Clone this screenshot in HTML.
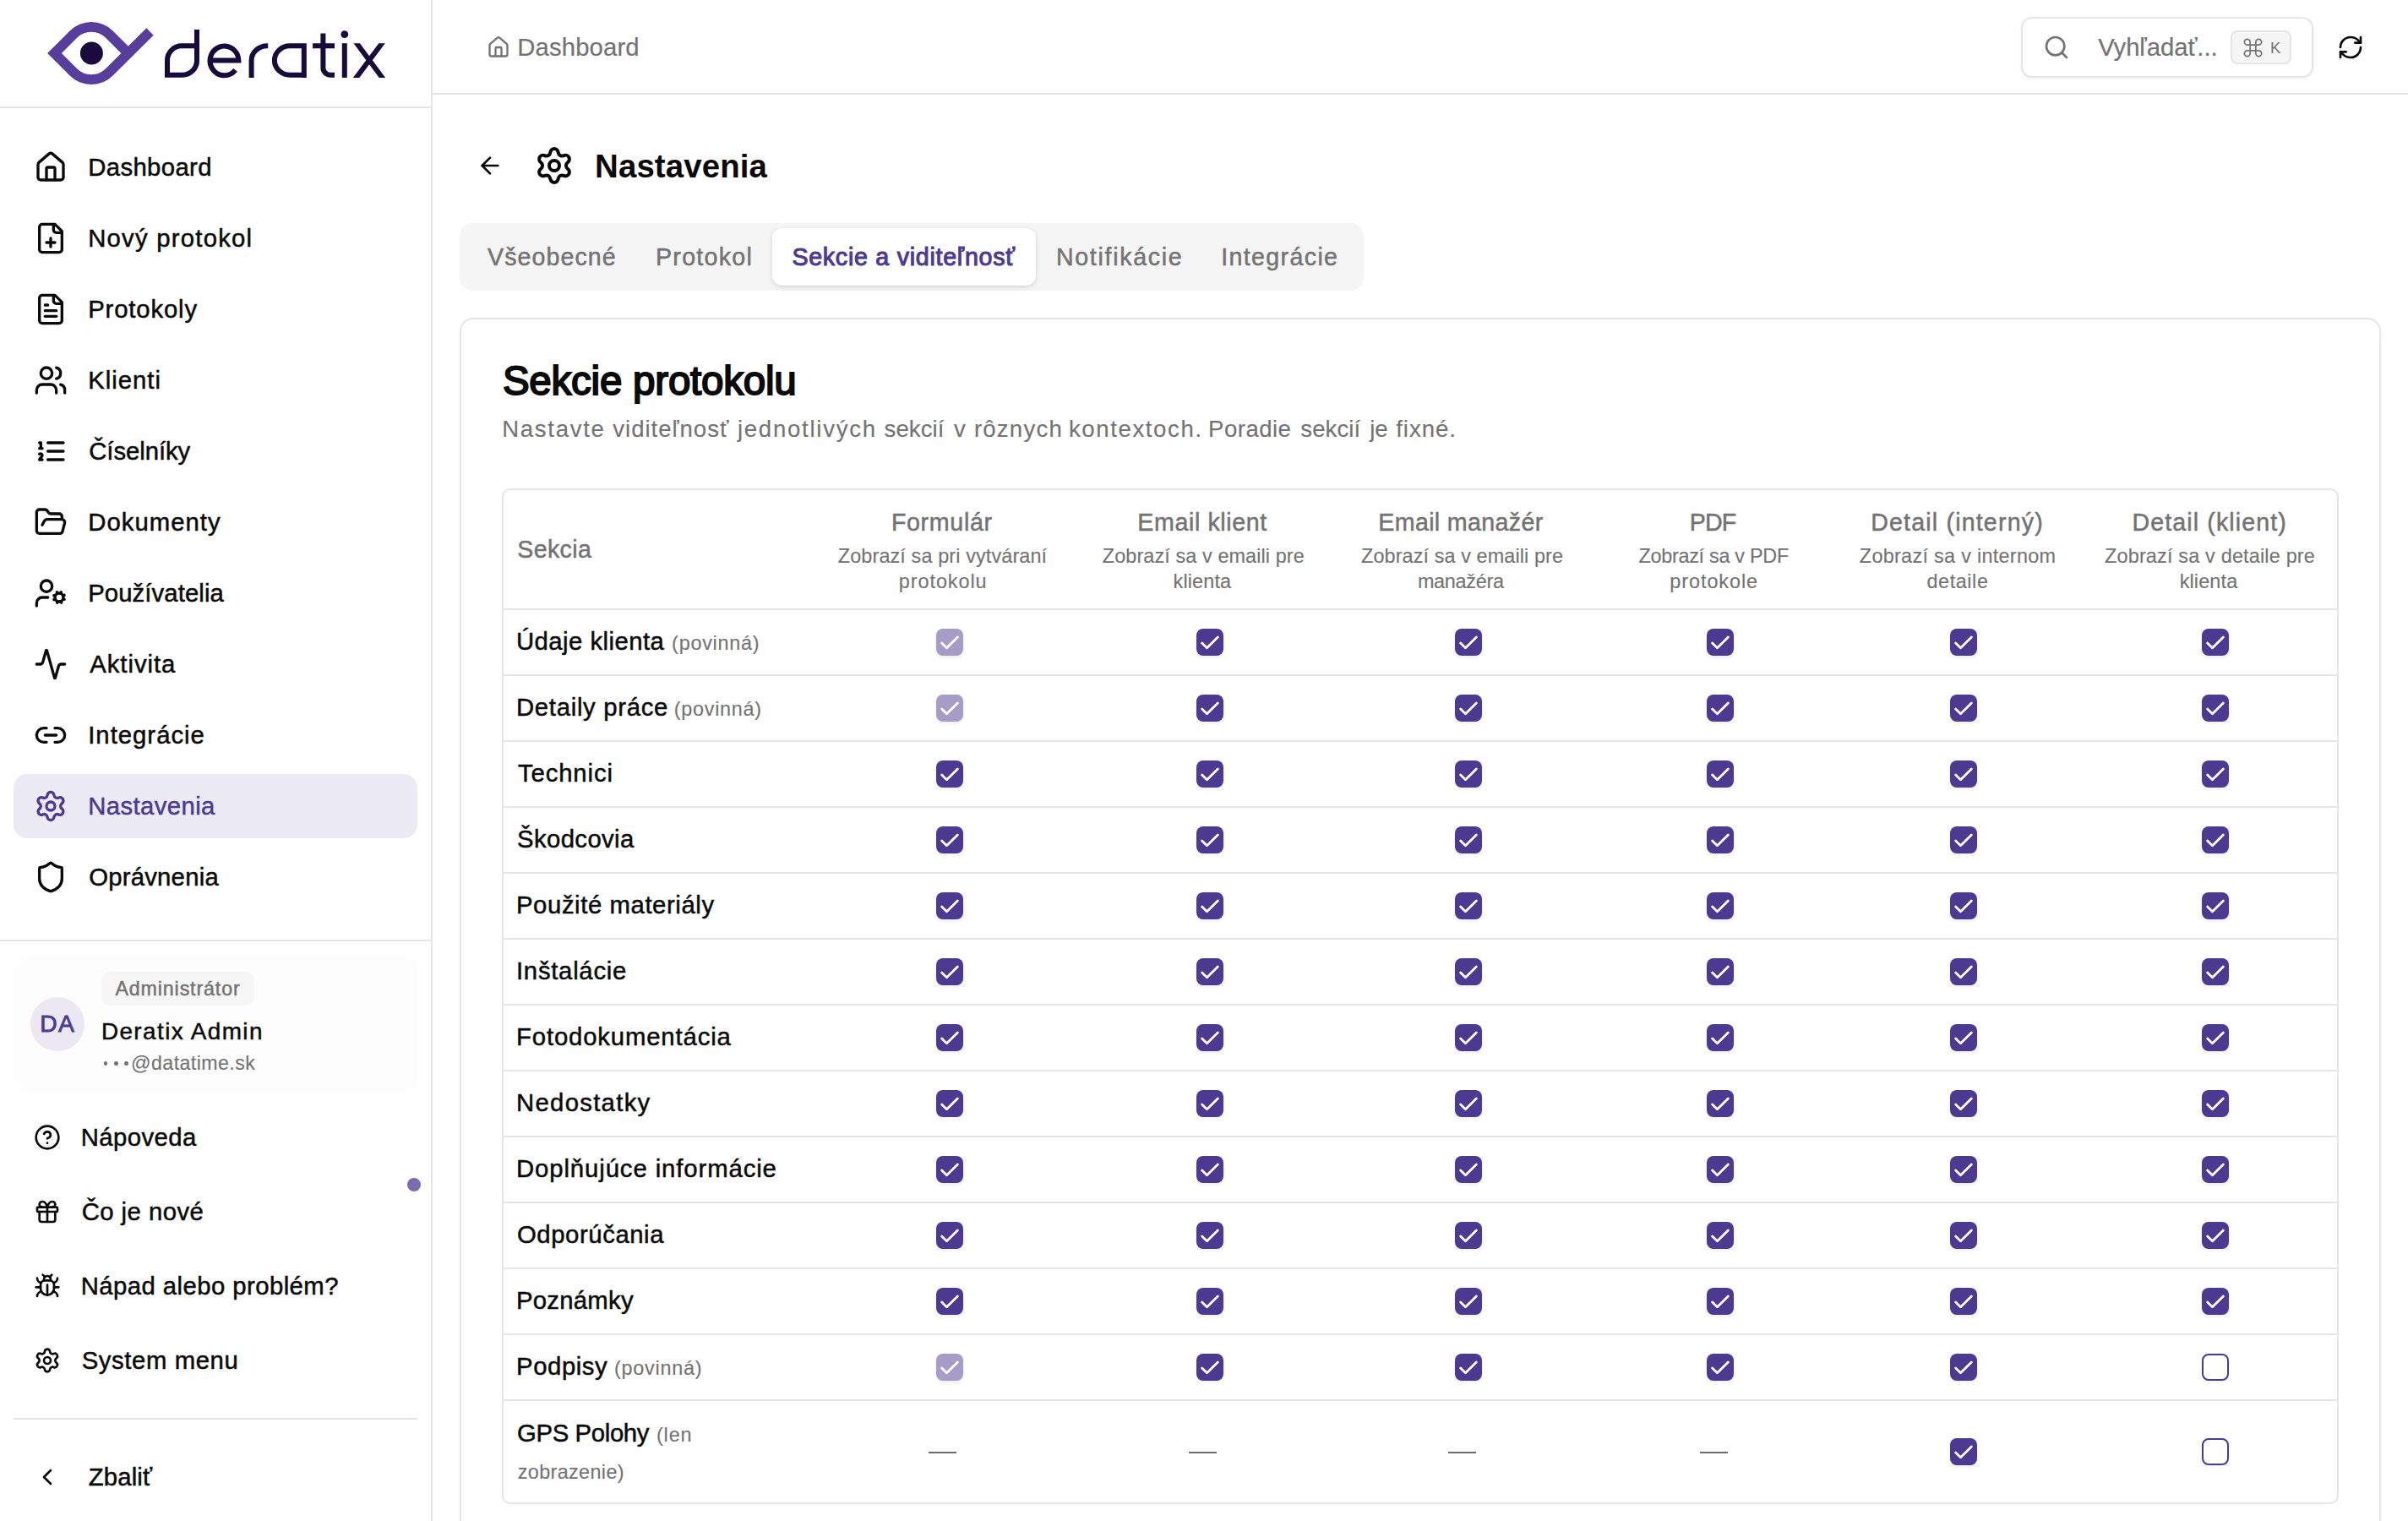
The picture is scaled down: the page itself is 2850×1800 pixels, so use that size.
<!DOCTYPE html>
<html lang="sk"><head><meta charset="utf-8"><title>Nastavenia – deratix</title>
<style>
html,body{margin:0;padding:0;background:#fff}
html,body{width:2850px;height:1800px;overflow:hidden}
body{position:relative;font-family:"Liberation Sans",sans-serif}
#root{position:absolute;left:0;top:0;width:2850px;height:1800px;overflow:hidden;background:#fff}
.a{position:absolute;display:block}
.t{position:absolute;white-space:nowrap;margin:0}
</style></head><body><div id="root">
<div class="a" style="left:510px;top:0px;width:2px;height:1800px;background:#e5e5e5"></div>
<div class="a" style="left:0px;top:126px;width:510px;height:2px;background:#e5e5e5"></div>
<svg class="a" style="left:0;top:0" width="512" height="126" viewBox="0 0 512 126" fill="none">
<defs><clipPath id="xc"><rect x="414" y="51.2" width="50" height="40.7"/></clipPath></defs>
<path d="M177.5 37.5 L129.3 85.4 A30 30 0 0 1 86.9 85.4 L64.5 63 L86.9 40.6 A30 30 0 0 1 129.3 40.6 L151.7 63" stroke="#573d9c" stroke-width="11.9" stroke-linejoin="miter" stroke-miterlimit="10"/>
<circle cx="108.4" cy="63" r="13.5" fill="#1a0a3e"/>
<g stroke="#170b3b" stroke-width="6" stroke-linecap="butt" stroke-linejoin="miter">
<path d="M233 34.9 V71.5 A17 17 0 0 1 216 88.7 H198 V71.5 A17.2 17.2 0 0 1 215.2 54.3 H233"/>
<path d="M248.6 71.4 H282.4 A16.9 17.4 0 1 0 278.6 82.9"/>
<path d="M297.6 91.9 V71.5 A19 17.2 0 0 1 316.6 54.3 H317.2"/>
<path d="M359.8 51.2 V91.9 M359.8 54.3 H343.2 A18.3 17.2 0 0 0 324.9 71.5 A18.3 17.2 0 0 0 343.2 88.7 H359.8"/>
<path d="M382.4 39.5 V80.2 A8.5 8.5 0 0 0 390.9 88.7 H396 M370.1 54.3 H396"/>
<path d="M407.8 51.2 V91.9"/>
<path clip-path="url(#xc)" d="M418.6 46.4 L456.2 97 M455.7 46.4 L417.8 97"/>
</g>
<circle cx="407.8" cy="40.7" r="4.4" fill="#170b3b"/>
</svg>
<svg class="a" style="left:40px;top:178px" width="40" height="40" viewBox="0 0 24 24" fill="none" stroke="#0a0a0a" stroke-width="2" stroke-linecap="round" stroke-linejoin="round"><path d="M15 21v-8a1 1 0 0 0-1-1h-4a1 1 0 0 0-1 1v8"/><path d="M3 10a2 2 0 0 1 .709-1.528l7-5.999a2 2 0 0 1 2.582 0l7 5.999A2 2 0 0 1 21 10v9a2 2 0 0 1-2 2H5a2 2 0 0 1-2-2z"/></svg>
<div class="t" style="left:104.20px;top:181px;font-size:29.3px;line-height:33px;color:#0a0a0a;-webkit-text-stroke:0.5px #0a0a0a;letter-spacing:0.371px;">Dashboard</div>
<svg class="a" style="left:40px;top:262px" width="40" height="40" viewBox="0 0 24 24" fill="none" stroke="#0a0a0a" stroke-width="2" stroke-linecap="round" stroke-linejoin="round"><path d="M15 2H6a2 2 0 0 0-2 2v16a2 2 0 0 0 2 2h12a2 2 0 0 0 2-2V7Z"/><path d="M14 2v4a2 2 0 0 0 2 2h4"/><path d="M9 15h6"/><path d="M12 18v-6"/></svg>
<div class="t" style="left:104.20px;top:265px;font-size:29.3px;line-height:33px;color:#0a0a0a;-webkit-text-stroke:0.5px #0a0a0a;letter-spacing:1.233px;">Nový protokol</div>
<svg class="a" style="left:40px;top:346px" width="40" height="40" viewBox="0 0 24 24" fill="none" stroke="#0a0a0a" stroke-width="2" stroke-linecap="round" stroke-linejoin="round"><path d="M15 2H6a2 2 0 0 0-2 2v16a2 2 0 0 0 2 2h12a2 2 0 0 0 2-2V7Z"/><path d="M14 2v4a2 2 0 0 0 2 2h4"/><path d="M10 9H8"/><path d="M16 13H8"/><path d="M16 17H8"/></svg>
<div class="t" style="left:104.20px;top:349px;font-size:29.3px;line-height:33px;color:#0a0a0a;-webkit-text-stroke:0.5px #0a0a0a;letter-spacing:0.841px;">Protokoly</div>
<svg class="a" style="left:40px;top:430px" width="40" height="40" viewBox="0 0 24 24" fill="none" stroke="#0a0a0a" stroke-width="2" stroke-linecap="round" stroke-linejoin="round"><path d="M16 21v-2a4 4 0 0 0-4-4H6a4 4 0 0 0-4 4v2"/><circle cx="9" cy="7" r="4"/><path d="M22 21v-2a4 4 0 0 0-3-3.87"/><path d="M16 3.13a4 4 0 0 1 0 7.75"/></svg>
<div class="t" style="left:104.20px;top:433px;font-size:29.3px;line-height:33px;color:#0a0a0a;-webkit-text-stroke:0.5px #0a0a0a;letter-spacing:0.986px;">Klienti</div>
<svg class="a" style="left:40px;top:514px" width="40" height="40" viewBox="0 0 24 24" fill="none" stroke="#0a0a0a" stroke-width="2" stroke-linecap="round" stroke-linejoin="round"><path d="M10 12h11"/><path d="M10 18h11"/><path d="M10 6h11"/><path d="M4 10h2"/><path d="M4 6h1v4"/><path d="M6 18H4c0-1 2-2 2-3s-1-1.5-2-1"/></svg>
<div class="t" style="left:105.20px;top:517px;font-size:29.3px;line-height:33px;color:#0a0a0a;-webkit-text-stroke:0.5px #0a0a0a;letter-spacing:-0.054px;">Číselníky</div>
<svg class="a" style="left:40px;top:598px" width="40" height="40" viewBox="0 0 24 24" fill="none" stroke="#0a0a0a" stroke-width="2" stroke-linecap="round" stroke-linejoin="round"><path d="m6 14 1.5-2.9A2 2 0 0 1 9.24 10H20a2 2 0 0 1 1.94 2.5l-1.54 6a2 2 0 0 1-1.95 1.5H4a2 2 0 0 1-2-2V5a2 2 0 0 1 2-2h3.9a2 2 0 0 1 1.69.9l.81 1.2a2 2 0 0 0 1.67.9H18a2 2 0 0 1 2 2v2"/></svg>
<div class="t" style="left:104.20px;top:601px;font-size:29.3px;line-height:33px;color:#0a0a0a;-webkit-text-stroke:0.5px #0a0a0a;letter-spacing:1.035px;">Dokumenty</div>
<svg class="a" style="left:40px;top:682px" width="40" height="40" viewBox="0 0 24 24" fill="none" stroke="#0a0a0a" stroke-width="2" stroke-linecap="round" stroke-linejoin="round"><circle cx="18" cy="15" r="3"/><circle cx="9" cy="7" r="4"/><path d="M10 15H6a4 4 0 0 0-4 4v2"/><path d="m21.7 16.4-.9-.3"/><path d="m15.2 13.9-.9-.3"/><path d="m16.6 18.7.3-.9"/><path d="m19.1 12.2.3-.9"/><path d="m19.6 18.7-.4-1"/><path d="m16.8 12.3-.4-1"/><path d="m14.3 16.6 1-.4"/><path d="m20.7 13.8 1-.4"/></svg>
<div class="t" style="left:104.20px;top:685px;font-size:29.3px;line-height:33px;color:#0a0a0a;-webkit-text-stroke:0.5px #0a0a0a;letter-spacing:0.099px;">Používatelia</div>
<svg class="a" style="left:40px;top:766px" width="40" height="40" viewBox="0 0 24 24" fill="none" stroke="#0a0a0a" stroke-width="2" stroke-linecap="round" stroke-linejoin="round"><path d="M22 12h-2.48a2 2 0 0 0-1.93 1.46l-2.35 8.36a.25.25 0 0 1-.48 0L9.24 2.18a.25.25 0 0 0-.48 0l-2.35 8.36A2 2 0 0 1 4.49 12H2"/></svg>
<div class="t" style="left:106.20px;top:769px;font-size:29.3px;line-height:33px;color:#0a0a0a;-webkit-text-stroke:0.5px #0a0a0a;letter-spacing:0.966px;">Aktivita</div>
<svg class="a" style="left:40px;top:850px" width="40" height="40" viewBox="0 0 24 24" fill="none" stroke="#0a0a0a" stroke-width="2" stroke-linecap="round" stroke-linejoin="round"><path d="M9 17H7A5 5 0 0 1 7 7h2"/><path d="M15 7h2a5 5 0 1 1 0 10h-2"/><line x1="8" x2="16" y1="12" y2="12"/></svg>
<div class="t" style="left:104.20px;top:853px;font-size:29.3px;line-height:33px;color:#0a0a0a;-webkit-text-stroke:0.5px #0a0a0a;letter-spacing:1.004px;">Integrácie</div>
<div class="a" style="left:16px;top:916px;width:478px;height:76px;background:#eceaf5;border-radius:16px"></div>
<svg class="a" style="left:40px;top:934px" width="40" height="40" viewBox="0 0 24 24" fill="none" stroke="#4c3a90" stroke-width="2" stroke-linecap="round" stroke-linejoin="round"><path d="M9.671 4.136a2.34 2.34 0 0 1 4.659 0 2.34 2.34 0 0 0 3.319 1.915 2.34 2.34 0 0 1 2.33 4.033 2.34 2.34 0 0 0 0 3.831 2.34 2.34 0 0 1-2.33 4.033 2.34 2.34 0 0 0-3.319 1.915 2.34 2.34 0 0 1-4.659 0 2.34 2.34 0 0 0-3.32-1.915 2.34 2.34 0 0 1-2.33-4.033 2.34 2.34 0 0 0 0-3.831A2.34 2.34 0 0 1 6.35 6.051a2.34 2.34 0 0 0 3.319-1.915"/><circle cx="12" cy="12" r="3"/></svg>
<div class="t" style="left:104.20px;top:937px;font-size:29.3px;line-height:33px;color:#4c3a90;-webkit-text-stroke:0.5px #4c3a90;letter-spacing:0.403px;">Nastavenia</div>
<svg class="a" style="left:40px;top:1018px" width="40" height="40" viewBox="0 0 24 24" fill="none" stroke="#0a0a0a" stroke-width="2" stroke-linecap="round" stroke-linejoin="round"><path d="M20 13c0 5-3.5 7.5-7.66 8.95a1 1 0 0 1-.67-.01C7.5 20.5 4 18 4 13V6a1 1 0 0 1 1-1c2 0 4.5-1.2 6.24-2.72a1.17 1.17 0 0 1 1.52 0C14.51 3.81 17 5 19 5a1 1 0 0 1 1 1z"/></svg>
<div class="t" style="left:105.20px;top:1021px;font-size:29.3px;line-height:33px;color:#0a0a0a;-webkit-text-stroke:0.5px #0a0a0a;letter-spacing:0.226px;">Oprávnenia</div>
<div class="a" style="left:0px;top:1112px;width:510px;height:2px;background:#e5e5e5"></div>
<div class="a" style="left:16px;top:1132px;width:478px;height:160px;background:#fdfdfe;border-radius:16px"></div>
<div class="a" style="left:120px;top:1150px;width:181px;height:40px;background:#f6f6f6;border-radius:10px"></div>
<div class="t" style="left:136.50px;top:1157px;font-size:23.2px;line-height:26px;color:#737373;-webkit-text-stroke:0.5px #737373;letter-spacing:0.878px;">Administrátor</div>
<div class="a" style="left:36px;top:1180px;width:64px;height:64px;background:#ebe8f4;border-radius:50%"></div>
<div class="t" style="left:47.20px;top:1195px;font-size:28.3px;line-height:32px;color:#4c3a90;-webkit-text-stroke:0.8px #4c3a90;letter-spacing:1.365px;">DA</div>
<div class="t" style="left:119.90px;top:1205px;font-size:27.9px;line-height:31px;color:#0a0a0a;-webkit-text-stroke:0.5px #0a0a0a;letter-spacing:1.414px;">Deratix Admin</div>
<div class="a" style="left:122.7px;top:1256.4px;width:4.6px;height:4.6px;background:#737373;border-radius:50%"></div>
<div class="a" style="left:135.29999999999998px;top:1256.4px;width:4.6px;height:4.6px;background:#737373;border-radius:50%"></div>
<div class="a" style="left:147.29999999999998px;top:1256.4px;width:4.6px;height:4.6px;background:#737373;border-radius:50%"></div>
<div class="t" style="left:155.10px;top:1245px;font-size:23.2px;line-height:26px;color:#737373;-webkit-text-stroke:0.15px #737373;letter-spacing:0.417px;">@datatime.sk</div>
<svg class="a" style="left:40px;top:1330px" width="32" height="32" viewBox="0 0 24 24" fill="none" stroke="#0a0a0a" stroke-width="2" stroke-linecap="round" stroke-linejoin="round"><circle cx="12" cy="12" r="10"/><path d="M9.09 9a3 3 0 0 1 5.83 1c0 2-3 3-3 3"/><path d="M12 17h.01"/></svg>
<div class="t" style="left:95.70px;top:1329px;font-size:29.3px;line-height:33px;color:#0a0a0a;-webkit-text-stroke:0.5px #0a0a0a;letter-spacing:0.432px;">Nápoveda</div>
<svg class="a" style="left:40px;top:1418px" width="32" height="32" viewBox="0 0 24 24" fill="none" stroke="#0a0a0a" stroke-width="2" stroke-linecap="round" stroke-linejoin="round"><rect x="3" y="8" width="18" height="4" rx="1"/><path d="M12 8v13"/><path d="M19 12v7a2 2 0 0 1-2 2H7a2 2 0 0 1-2-2v-7"/><path d="M7.5 8a2.5 2.5 0 0 1 0-5A4.8 8 0 0 1 12 8a4.8 8 0 0 1 4.5-5 2.5 2.5 0 0 1 0 5"/></svg>
<div class="t" style="left:96.70px;top:1417px;font-size:29.3px;line-height:33px;color:#0a0a0a;-webkit-text-stroke:0.5px #0a0a0a;letter-spacing:0.448px;">Čo je nové</div>
<svg class="a" style="left:40px;top:1506px" width="32" height="32" viewBox="0 0 24 24" fill="none" stroke="#0a0a0a" stroke-width="2" stroke-linecap="round" stroke-linejoin="round"><path d="m8 2 1.88 1.88"/><path d="M14.12 3.88 16 2"/><path d="M9 7.13v-1a3.003 3.003 0 1 1 6 0v1"/><path d="M12 20c-3.3 0-6-2.7-6-6v-3a4 4 0 0 1 4-4h4a4 4 0 0 1 4 4v3c0 3.3-2.7 6-6 6"/><path d="M12 20v-9"/><path d="M6.53 9C4.6 8.8 3 7.1 3 5"/><path d="M6 13H2"/><path d="M3 21c0-2.1 1.7-3.9 3.8-4"/><path d="M20.97 5c0 2.1-1.6 3.8-3.5 4"/><path d="M22 13h-4"/><path d="M17.2 17c2.1.1 3.8 1.9 3.8 4"/></svg>
<div class="t" style="left:95.70px;top:1505px;font-size:29.3px;line-height:33px;color:#0a0a0a;-webkit-text-stroke:0.5px #0a0a0a;letter-spacing:0.440px;">Nápad alebo problém?</div>
<svg class="a" style="left:40px;top:1594px" width="32" height="32" viewBox="0 0 24 24" fill="none" stroke="#0a0a0a" stroke-width="2" stroke-linecap="round" stroke-linejoin="round"><path d="M9.671 4.136a2.34 2.34 0 0 1 4.659 0 2.34 2.34 0 0 0 3.319 1.915 2.34 2.34 0 0 1 2.33 4.033 2.34 2.34 0 0 0 0 3.831 2.34 2.34 0 0 1-2.33 4.033 2.34 2.34 0 0 0-3.319 1.915 2.34 2.34 0 0 1-4.659 0 2.34 2.34 0 0 0-3.32-1.915 2.34 2.34 0 0 1-2.33-4.033 2.34 2.34 0 0 0 0-3.831A2.34 2.34 0 0 1 6.35 6.051a2.34 2.34 0 0 0 3.319-1.915"/><circle cx="12" cy="12" r="3"/></svg>
<div class="t" style="left:96.70px;top:1593px;font-size:29.3px;line-height:33px;color:#0a0a0a;-webkit-text-stroke:0.5px #0a0a0a;letter-spacing:0.599px;">System menu</div>
<div class="a" style="left:482px;top:1394px;width:16px;height:16px;background:#7a6cb0;border-radius:50%"></div>
<div class="a" style="left:16px;top:1678px;width:478px;height:2px;background:#e5e5e5"></div>
<svg class="a" style="left:40px;top:1731.5px" width="32" height="32" viewBox="0 0 24 24" fill="none" stroke="#0a0a0a" stroke-width="2" stroke-linecap="round" stroke-linejoin="round"><path d="m15 18-6-6 6-6"/></svg>
<div class="t" style="left:104.80px;top:1731px;font-size:29.3px;line-height:33px;color:#0a0a0a;-webkit-text-stroke:0.5px #0a0a0a;letter-spacing:0.120px;">Zbaliť</div>
<div class="a" style="left:512px;top:110px;width:2338px;height:2px;background:#e5e5e5"></div>
<svg class="a" style="left:576px;top:42px" width="28" height="28" viewBox="0 0 24 24" fill="none" stroke="#737373" stroke-width="2" stroke-linecap="round" stroke-linejoin="round"><path d="M15 21v-8a1 1 0 0 0-1-1h-4a1 1 0 0 0-1 1v8"/><path d="M3 10a2 2 0 0 1 .709-1.528l7-5.999a2 2 0 0 1 2.582 0l7 5.999A2 2 0 0 1 21 10v9a2 2 0 0 1-2 2H5a2 2 0 0 1-2-2z"/></svg>
<div class="t" style="left:612.30px;top:39px;font-size:29.3px;line-height:33px;color:#737373;-webkit-text-stroke:0.2px #737373;letter-spacing:0.121px;">Dashboard</div>
<div class="a" style="left:2392px;top:20px;width:346px;height:72px;border:2px solid #e5e5e5;border-radius:13px;box-sizing:border-box;box-shadow:0 2px 4px rgba(0,0,0,.05);background:#fff"></div>
<svg class="a" style="left:2418px;top:40px" width="32" height="32" viewBox="0 0 24 24" fill="none" stroke="#737373" stroke-width="2" stroke-linecap="round" stroke-linejoin="round"><circle cx="11" cy="11" r="8"/><path d="m21 21-4.34-4.34"/></svg>
<div class="t" style="left:2483.20px;top:39px;font-size:29.3px;line-height:33px;color:#737373;-webkit-text-stroke:0.2px #737373;letter-spacing:-0.078px;">Vyhľadať...</div>
<div class="a" style="left:2640px;top:36px;width:72px;height:40px;border:2px solid #e5e5e5;border-radius:8px;box-sizing:border-box;background:#f5f5f5"></div>
<svg class="a" style="left:2652.5px;top:42.5px" width="27" height="27" viewBox="0 0 24 24" fill="none" stroke="#737373" stroke-width="1.5" stroke-linecap="round" stroke-linejoin="round"><path d="M15 6v12a3 3 0 1 0 3-3H6a3 3 0 1 0 3 3V6a3 3 0 1 0-3 3h12a3 3 0 1 0-3-3"/></svg>
<div class="t" style="left:2687.00px;top:46px;font-size:18.5px;line-height:21px;color:#737373;-webkit-text-stroke:0px #737373;">K</div>
<svg class="a" style="left:2766px;top:40px" width="32" height="32" viewBox="0 0 24 24" fill="none" stroke="#0a0a0a" stroke-width="2" stroke-linecap="round" stroke-linejoin="round"><path d="M3 12a9 9 0 0 1 9-9 9.75 9.75 0 0 1 6.74 2.74L21 8"/><path d="M21 3v5h-5"/><path d="M21 12a9 9 0 0 1-9 9 9.75 9.75 0 0 1-6.74-2.74L3 16"/><path d="M8 16H3v5"/></svg>
<svg class="a" style="left:564px;top:180px" width="32" height="32" viewBox="0 0 24 24" fill="none" stroke="#0a0a0a" stroke-width="2" stroke-linecap="round" stroke-linejoin="round"><path d="m12 19-7-7 7-7"/><path d="M19 12H5"/></svg>
<svg class="a" style="left:632px;top:172px" width="48" height="48" viewBox="0 0 24 24" fill="none" stroke="#0a0a0a" stroke-width="2" stroke-linecap="round" stroke-linejoin="round"><path d="M9.671 4.136a2.34 2.34 0 0 1 4.659 0 2.34 2.34 0 0 0 3.319 1.915 2.34 2.34 0 0 1 2.33 4.033 2.34 2.34 0 0 0 0 3.831 2.34 2.34 0 0 1-2.33 4.033 2.34 2.34 0 0 0-3.319 1.915 2.34 2.34 0 0 1-4.659 0 2.34 2.34 0 0 0-3.32-1.915 2.34 2.34 0 0 1-2.33-4.033 2.34 2.34 0 0 0 0-3.831A2.34 2.34 0 0 1 6.35 6.051a2.34 2.34 0 0 0 3.319-1.915"/><circle cx="12" cy="12" r="3"/></svg>
<div class="t" style="left:704.10px;top:175px;font-size:38.4px;line-height:43px;color:#0a0a0a;font-weight:700;letter-spacing:0.113px;">Nastavenia</div>
<div class="a" style="left:544px;top:264px;width:1070px;height:80px;background:#f5f5f5;border-radius:16px"></div>
<div class="a" style="left:914px;top:270px;width:312px;height:68px;background:#fff;border-radius:12px;box-shadow:0 2px 6px rgba(0,0,0,.10),0 1px 3px rgba(0,0,0,.06)"></div>
<div class="t" style="left:577.00px;top:288px;font-size:28.6px;line-height:32px;color:#737373;-webkit-text-stroke:0.5px #737373;letter-spacing:1.078px;">Všeobecné</div>
<div class="t" style="left:776.00px;top:288px;font-size:28.6px;line-height:32px;color:#737373;-webkit-text-stroke:0.5px #737373;letter-spacing:1.280px;">Protokol</div>
<div class="t" style="left:937.40px;top:288px;font-size:28.6px;line-height:32px;color:#4c3a90;-webkit-text-stroke:1.05px #4c3a90;letter-spacing:0.737px;">Sekcie a viditeľnosť</div>
<div class="t" style="left:1249.90px;top:288px;font-size:28.6px;line-height:32px;color:#737373;-webkit-text-stroke:0.5px #737373;letter-spacing:1.691px;">Notifikácie</div>
<div class="t" style="left:1445.20px;top:288px;font-size:28.6px;line-height:32px;color:#737373;-webkit-text-stroke:0.5px #737373;letter-spacing:1.359px;">Integrácie</div>
<div class="a" style="left:544px;top:376px;width:2274px;height:1460px;border:2px solid #e5e5e5;border-radius:16px;box-sizing:border-box;box-shadow:0 2px 4px rgba(0,0,0,.04);background:#fff"></div>
<div class="t" style="left:594.90px;top:424px;font-size:47.5px;line-height:53px;color:#0a0a0a;-webkit-text-stroke:2.0px #0a0a0a;letter-spacing:-0.224px;">Sekcie protokolu</div>
<div class="t" style="left:594.20px;top:492px;font-size:27.6px;line-height:31px;color:#737373;-webkit-text-stroke:0.15px #737373;letter-spacing:1.693px;">Nastavte</div>
<div class="t" style="left:725.30px;top:492px;font-size:27.6px;line-height:31px;color:#737373;-webkit-text-stroke:0.15px #737373;letter-spacing:0.965px;">viditeľnosť</div>
<div class="t" style="left:872.90px;top:492px;font-size:27.6px;line-height:31px;color:#737373;-webkit-text-stroke:0.15px #737373;letter-spacing:1.733px;">jednotlivých</div>
<div class="t" style="left:1046.50px;top:492px;font-size:27.6px;line-height:31px;color:#737373;-webkit-text-stroke:0.15px #737373;letter-spacing:0.087px;">sekcií</div>
<div class="t" style="left:1129.00px;top:492px;font-size:27.6px;line-height:31px;color:#737373;-webkit-text-stroke:0.15px #737373;">v</div>
<div class="t" style="left:1152.90px;top:492px;font-size:27.6px;line-height:31px;color:#737373;-webkit-text-stroke:0.15px #737373;letter-spacing:1.205px;">rôznych</div>
<div class="t" style="left:1264.90px;top:492px;font-size:27.6px;line-height:31px;color:#737373;-webkit-text-stroke:0.15px #737373;letter-spacing:1.604px;">kontextoch.</div>
<div class="t" style="left:1430.10px;top:492px;font-size:27.6px;line-height:31px;color:#737373;-webkit-text-stroke:0.15px #737373;letter-spacing:0.456px;">Poradie</div>
<div class="t" style="left:1539.30px;top:492px;font-size:27.6px;line-height:31px;color:#737373;-webkit-text-stroke:0.15px #737373;letter-spacing:0.067px;">sekcií</div>
<div class="t" style="left:1621.20px;top:492px;font-size:27.6px;line-height:31px;color:#737373;-webkit-text-stroke:0.15px #737373;letter-spacing:-0.130px;">je</div>
<div class="t" style="left:1652.20px;top:492px;font-size:27.6px;line-height:31px;color:#737373;-webkit-text-stroke:0.15px #737373;letter-spacing:0.963px;">fixné.</div>
<div class="a" style="left:594px;top:578px;width:2174px;height:1202px;border:2px solid #e5e5e5;border-radius:10px;box-sizing:border-box;background:#fff"></div>
<div class="a" style="left:596px;top:720px;width:2170px;height:2px;background:#e5e5e5"></div>
<div class="a" style="left:596px;top:798px;width:2170px;height:2px;background:#e5e5e5"></div>
<div class="a" style="left:596px;top:876px;width:2170px;height:2px;background:#e5e5e5"></div>
<div class="a" style="left:596px;top:954px;width:2170px;height:2px;background:#e5e5e5"></div>
<div class="a" style="left:596px;top:1032px;width:2170px;height:2px;background:#e5e5e5"></div>
<div class="a" style="left:596px;top:1110px;width:2170px;height:2px;background:#e5e5e5"></div>
<div class="a" style="left:596px;top:1188px;width:2170px;height:2px;background:#e5e5e5"></div>
<div class="a" style="left:596px;top:1266px;width:2170px;height:2px;background:#e5e5e5"></div>
<div class="a" style="left:596px;top:1344px;width:2170px;height:2px;background:#e5e5e5"></div>
<div class="a" style="left:596px;top:1422px;width:2170px;height:2px;background:#e5e5e5"></div>
<div class="a" style="left:596px;top:1500px;width:2170px;height:2px;background:#e5e5e5"></div>
<div class="a" style="left:596px;top:1578px;width:2170px;height:2px;background:#e5e5e5"></div>
<div class="a" style="left:596px;top:1656px;width:2170px;height:2px;background:#e5e5e5"></div>
<div class="t" style="left:612.20px;top:634px;font-size:28.6px;line-height:32px;color:#737373;-webkit-text-stroke:0.5px #737373;letter-spacing:0.376px;">Sekcia</div>
<div class="t" style="left:1054.90px;top:602px;font-size:28.6px;line-height:32px;color:#737373;-webkit-text-stroke:0.5px #737373;letter-spacing:0.676px;">Formulár</div>
<div class="t" style="left:991.80px;top:645px;font-size:23.4px;line-height:26px;color:#737373;-webkit-text-stroke:0.15px #737373;letter-spacing:0.126px;">Zobrazí sa pri vytváraní</div>
<div class="t" style="left:1063.80px;top:675px;font-size:23.4px;line-height:26px;color:#737373;-webkit-text-stroke:0.15px #737373;letter-spacing:0.948px;">protokolu</div>
<div class="t" style="left:1346.30px;top:602px;font-size:28.6px;line-height:32px;color:#737373;-webkit-text-stroke:0.5px #737373;letter-spacing:0.614px;">Email klient</div>
<div class="t" style="left:1304.85px;top:645px;font-size:23.4px;line-height:26px;color:#737373;-webkit-text-stroke:0.15px #737373;letter-spacing:0.105px;">Zobrazí sa v emaili pre</div>
<div class="t" style="left:1388.55px;top:675px;font-size:23.4px;line-height:26px;color:#737373;-webkit-text-stroke:0.15px #737373;letter-spacing:0.149px;">klienta</div>
<div class="t" style="left:1631.35px;top:602px;font-size:28.6px;line-height:32px;color:#737373;-webkit-text-stroke:0.5px #737373;letter-spacing:0.344px;">Email manažér</div>
<div class="t" style="left:1611.05px;top:645px;font-size:23.4px;line-height:26px;color:#737373;-webkit-text-stroke:0.15px #737373;letter-spacing:0.105px;">Zobrazí sa v emaili pre</div>
<div class="t" style="left:1677.90px;top:675px;font-size:23.4px;line-height:26px;color:#737373;-webkit-text-stroke:0.15px #737373;letter-spacing:-0.258px;">manažéra</div>
<div class="t" style="left:1999.75px;top:602px;font-size:28.6px;line-height:32px;color:#737373;-webkit-text-stroke:0.5px #737373;letter-spacing:-0.911px;">PDF</div>
<div class="t" style="left:1939.45px;top:645px;font-size:23.4px;line-height:26px;color:#737373;-webkit-text-stroke:0.15px #737373;letter-spacing:-0.279px;">Zobrazí sa v PDF</div>
<div class="t" style="left:1976.30px;top:675px;font-size:23.4px;line-height:26px;color:#737373;-webkit-text-stroke:0.15px #737373;letter-spacing:0.948px;">protokole</div>
<div class="t" style="left:2214.20px;top:602px;font-size:28.6px;line-height:32px;color:#737373;-webkit-text-stroke:0.5px #737373;letter-spacing:1.174px;">Detail (interný)</div>
<div class="t" style="left:2200.80px;top:645px;font-size:23.4px;line-height:26px;color:#737373;-webkit-text-stroke:0.15px #737373;letter-spacing:0.304px;">Zobrazí sa v internom</div>
<div class="t" style="left:2280.50px;top:675px;font-size:23.4px;line-height:26px;color:#737373;-webkit-text-stroke:0.15px #737373;letter-spacing:0.580px;">detaile</div>
<div class="t" style="left:2523.55px;top:602px;font-size:28.6px;line-height:32px;color:#737373;-webkit-text-stroke:0.5px #737373;letter-spacing:1.098px;">Detail (klient)</div>
<div class="t" style="left:2491.00px;top:645px;font-size:23.4px;line-height:26px;color:#737373;-webkit-text-stroke:0.15px #737373;letter-spacing:0.191px;">Zobrazí sa v detaile pre</div>
<div class="t" style="left:2579.65px;top:675px;font-size:23.4px;line-height:26px;color:#737373;-webkit-text-stroke:0.15px #737373;letter-spacing:0.149px;">klienta</div>
<div class="t" style="left:611.00px;top:742px;font-size:29.3px;line-height:33px;color:#0a0a0a;-webkit-text-stroke:0.5px #0a0a0a;letter-spacing:0.460px;">Údaje klienta</div>
<div class="t" style="left:795.10px;top:748px;font-size:23.4px;line-height:26px;color:#737373;-webkit-text-stroke:0.15px #737373;letter-spacing:0.747px;">(povinná)</div>
<div class="a" style="left:1108px;top:744px;width:32px;height:32px;background:#a59dc8;border-radius:8px;box-shadow:0 2px 4px rgba(0,0,0,.08)"></div><svg class="a" style="left:1110px;top:746.5px" width="28" height="28" viewBox="0 0 24 24" fill="none" stroke="#fff" stroke-width="2.4" stroke-linecap="round" stroke-linejoin="round"><path d="M20 6 9 17l-5-5"/></svg>
<div class="a" style="left:1416px;top:744px;width:32px;height:32px;background:#4c3a90;border-radius:8px;box-shadow:0 2px 4px rgba(0,0,0,.08)"></div><svg class="a" style="left:1418px;top:746.5px" width="28" height="28" viewBox="0 0 24 24" fill="none" stroke="#fff" stroke-width="2.4" stroke-linecap="round" stroke-linejoin="round"><path d="M20 6 9 17l-5-5"/></svg>
<div class="a" style="left:1722px;top:744px;width:32px;height:32px;background:#4c3a90;border-radius:8px;box-shadow:0 2px 4px rgba(0,0,0,.08)"></div><svg class="a" style="left:1724px;top:746.5px" width="28" height="28" viewBox="0 0 24 24" fill="none" stroke="#fff" stroke-width="2.4" stroke-linecap="round" stroke-linejoin="round"><path d="M20 6 9 17l-5-5"/></svg>
<div class="a" style="left:2020px;top:744px;width:32px;height:32px;background:#4c3a90;border-radius:8px;box-shadow:0 2px 4px rgba(0,0,0,.08)"></div><svg class="a" style="left:2022px;top:746.5px" width="28" height="28" viewBox="0 0 24 24" fill="none" stroke="#fff" stroke-width="2.4" stroke-linecap="round" stroke-linejoin="round"><path d="M20 6 9 17l-5-5"/></svg>
<div class="a" style="left:2308px;top:744px;width:32px;height:32px;background:#4c3a90;border-radius:8px;box-shadow:0 2px 4px rgba(0,0,0,.08)"></div><svg class="a" style="left:2310px;top:746.5px" width="28" height="28" viewBox="0 0 24 24" fill="none" stroke="#fff" stroke-width="2.4" stroke-linecap="round" stroke-linejoin="round"><path d="M20 6 9 17l-5-5"/></svg>
<div class="a" style="left:2606px;top:744px;width:32px;height:32px;background:#4c3a90;border-radius:8px;box-shadow:0 2px 4px rgba(0,0,0,.08)"></div><svg class="a" style="left:2608px;top:746.5px" width="28" height="28" viewBox="0 0 24 24" fill="none" stroke="#fff" stroke-width="2.4" stroke-linecap="round" stroke-linejoin="round"><path d="M20 6 9 17l-5-5"/></svg>
<div class="t" style="left:611.00px;top:820px;font-size:29.3px;line-height:33px;color:#0a0a0a;-webkit-text-stroke:0.5px #0a0a0a;letter-spacing:0.702px;">Detaily práce</div>
<div class="t" style="left:797.80px;top:826px;font-size:23.4px;line-height:26px;color:#737373;-webkit-text-stroke:0.15px #737373;letter-spacing:0.722px;">(povinná)</div>
<div class="a" style="left:1108px;top:822px;width:32px;height:32px;background:#a59dc8;border-radius:8px;box-shadow:0 2px 4px rgba(0,0,0,.08)"></div><svg class="a" style="left:1110px;top:824.5px" width="28" height="28" viewBox="0 0 24 24" fill="none" stroke="#fff" stroke-width="2.4" stroke-linecap="round" stroke-linejoin="round"><path d="M20 6 9 17l-5-5"/></svg>
<div class="a" style="left:1416px;top:822px;width:32px;height:32px;background:#4c3a90;border-radius:8px;box-shadow:0 2px 4px rgba(0,0,0,.08)"></div><svg class="a" style="left:1418px;top:824.5px" width="28" height="28" viewBox="0 0 24 24" fill="none" stroke="#fff" stroke-width="2.4" stroke-linecap="round" stroke-linejoin="round"><path d="M20 6 9 17l-5-5"/></svg>
<div class="a" style="left:1722px;top:822px;width:32px;height:32px;background:#4c3a90;border-radius:8px;box-shadow:0 2px 4px rgba(0,0,0,.08)"></div><svg class="a" style="left:1724px;top:824.5px" width="28" height="28" viewBox="0 0 24 24" fill="none" stroke="#fff" stroke-width="2.4" stroke-linecap="round" stroke-linejoin="round"><path d="M20 6 9 17l-5-5"/></svg>
<div class="a" style="left:2020px;top:822px;width:32px;height:32px;background:#4c3a90;border-radius:8px;box-shadow:0 2px 4px rgba(0,0,0,.08)"></div><svg class="a" style="left:2022px;top:824.5px" width="28" height="28" viewBox="0 0 24 24" fill="none" stroke="#fff" stroke-width="2.4" stroke-linecap="round" stroke-linejoin="round"><path d="M20 6 9 17l-5-5"/></svg>
<div class="a" style="left:2308px;top:822px;width:32px;height:32px;background:#4c3a90;border-radius:8px;box-shadow:0 2px 4px rgba(0,0,0,.08)"></div><svg class="a" style="left:2310px;top:824.5px" width="28" height="28" viewBox="0 0 24 24" fill="none" stroke="#fff" stroke-width="2.4" stroke-linecap="round" stroke-linejoin="round"><path d="M20 6 9 17l-5-5"/></svg>
<div class="a" style="left:2606px;top:822px;width:32px;height:32px;background:#4c3a90;border-radius:8px;box-shadow:0 2px 4px rgba(0,0,0,.08)"></div><svg class="a" style="left:2608px;top:824.5px" width="28" height="28" viewBox="0 0 24 24" fill="none" stroke="#fff" stroke-width="2.4" stroke-linecap="round" stroke-linejoin="round"><path d="M20 6 9 17l-5-5"/></svg>
<div class="t" style="left:613.00px;top:898px;font-size:29.3px;line-height:33px;color:#0a0a0a;-webkit-text-stroke:0.5px #0a0a0a;letter-spacing:0.867px;">Technici</div>
<div class="a" style="left:1108px;top:900px;width:32px;height:32px;background:#4c3a90;border-radius:8px;box-shadow:0 2px 4px rgba(0,0,0,.08)"></div><svg class="a" style="left:1110px;top:902.5px" width="28" height="28" viewBox="0 0 24 24" fill="none" stroke="#fff" stroke-width="2.4" stroke-linecap="round" stroke-linejoin="round"><path d="M20 6 9 17l-5-5"/></svg>
<div class="a" style="left:1416px;top:900px;width:32px;height:32px;background:#4c3a90;border-radius:8px;box-shadow:0 2px 4px rgba(0,0,0,.08)"></div><svg class="a" style="left:1418px;top:902.5px" width="28" height="28" viewBox="0 0 24 24" fill="none" stroke="#fff" stroke-width="2.4" stroke-linecap="round" stroke-linejoin="round"><path d="M20 6 9 17l-5-5"/></svg>
<div class="a" style="left:1722px;top:900px;width:32px;height:32px;background:#4c3a90;border-radius:8px;box-shadow:0 2px 4px rgba(0,0,0,.08)"></div><svg class="a" style="left:1724px;top:902.5px" width="28" height="28" viewBox="0 0 24 24" fill="none" stroke="#fff" stroke-width="2.4" stroke-linecap="round" stroke-linejoin="round"><path d="M20 6 9 17l-5-5"/></svg>
<div class="a" style="left:2020px;top:900px;width:32px;height:32px;background:#4c3a90;border-radius:8px;box-shadow:0 2px 4px rgba(0,0,0,.08)"></div><svg class="a" style="left:2022px;top:902.5px" width="28" height="28" viewBox="0 0 24 24" fill="none" stroke="#fff" stroke-width="2.4" stroke-linecap="round" stroke-linejoin="round"><path d="M20 6 9 17l-5-5"/></svg>
<div class="a" style="left:2308px;top:900px;width:32px;height:32px;background:#4c3a90;border-radius:8px;box-shadow:0 2px 4px rgba(0,0,0,.08)"></div><svg class="a" style="left:2310px;top:902.5px" width="28" height="28" viewBox="0 0 24 24" fill="none" stroke="#fff" stroke-width="2.4" stroke-linecap="round" stroke-linejoin="round"><path d="M20 6 9 17l-5-5"/></svg>
<div class="a" style="left:2606px;top:900px;width:32px;height:32px;background:#4c3a90;border-radius:8px;box-shadow:0 2px 4px rgba(0,0,0,.08)"></div><svg class="a" style="left:2608px;top:902.5px" width="28" height="28" viewBox="0 0 24 24" fill="none" stroke="#fff" stroke-width="2.4" stroke-linecap="round" stroke-linejoin="round"><path d="M20 6 9 17l-5-5"/></svg>
<div class="t" style="left:612.00px;top:976px;font-size:29.3px;line-height:33px;color:#0a0a0a;-webkit-text-stroke:0.5px #0a0a0a;letter-spacing:0.391px;">Škodcovia</div>
<div class="a" style="left:1108px;top:978px;width:32px;height:32px;background:#4c3a90;border-radius:8px;box-shadow:0 2px 4px rgba(0,0,0,.08)"></div><svg class="a" style="left:1110px;top:980.5px" width="28" height="28" viewBox="0 0 24 24" fill="none" stroke="#fff" stroke-width="2.4" stroke-linecap="round" stroke-linejoin="round"><path d="M20 6 9 17l-5-5"/></svg>
<div class="a" style="left:1416px;top:978px;width:32px;height:32px;background:#4c3a90;border-radius:8px;box-shadow:0 2px 4px rgba(0,0,0,.08)"></div><svg class="a" style="left:1418px;top:980.5px" width="28" height="28" viewBox="0 0 24 24" fill="none" stroke="#fff" stroke-width="2.4" stroke-linecap="round" stroke-linejoin="round"><path d="M20 6 9 17l-5-5"/></svg>
<div class="a" style="left:1722px;top:978px;width:32px;height:32px;background:#4c3a90;border-radius:8px;box-shadow:0 2px 4px rgba(0,0,0,.08)"></div><svg class="a" style="left:1724px;top:980.5px" width="28" height="28" viewBox="0 0 24 24" fill="none" stroke="#fff" stroke-width="2.4" stroke-linecap="round" stroke-linejoin="round"><path d="M20 6 9 17l-5-5"/></svg>
<div class="a" style="left:2020px;top:978px;width:32px;height:32px;background:#4c3a90;border-radius:8px;box-shadow:0 2px 4px rgba(0,0,0,.08)"></div><svg class="a" style="left:2022px;top:980.5px" width="28" height="28" viewBox="0 0 24 24" fill="none" stroke="#fff" stroke-width="2.4" stroke-linecap="round" stroke-linejoin="round"><path d="M20 6 9 17l-5-5"/></svg>
<div class="a" style="left:2308px;top:978px;width:32px;height:32px;background:#4c3a90;border-radius:8px;box-shadow:0 2px 4px rgba(0,0,0,.08)"></div><svg class="a" style="left:2310px;top:980.5px" width="28" height="28" viewBox="0 0 24 24" fill="none" stroke="#fff" stroke-width="2.4" stroke-linecap="round" stroke-linejoin="round"><path d="M20 6 9 17l-5-5"/></svg>
<div class="a" style="left:2606px;top:978px;width:32px;height:32px;background:#4c3a90;border-radius:8px;box-shadow:0 2px 4px rgba(0,0,0,.08)"></div><svg class="a" style="left:2608px;top:980.5px" width="28" height="28" viewBox="0 0 24 24" fill="none" stroke="#fff" stroke-width="2.4" stroke-linecap="round" stroke-linejoin="round"><path d="M20 6 9 17l-5-5"/></svg>
<div class="t" style="left:611.00px;top:1054px;font-size:29.3px;line-height:33px;color:#0a0a0a;-webkit-text-stroke:0.5px #0a0a0a;letter-spacing:0.584px;">Použité materiály</div>
<div class="a" style="left:1108px;top:1056px;width:32px;height:32px;background:#4c3a90;border-radius:8px;box-shadow:0 2px 4px rgba(0,0,0,.08)"></div><svg class="a" style="left:1110px;top:1058.5px" width="28" height="28" viewBox="0 0 24 24" fill="none" stroke="#fff" stroke-width="2.4" stroke-linecap="round" stroke-linejoin="round"><path d="M20 6 9 17l-5-5"/></svg>
<div class="a" style="left:1416px;top:1056px;width:32px;height:32px;background:#4c3a90;border-radius:8px;box-shadow:0 2px 4px rgba(0,0,0,.08)"></div><svg class="a" style="left:1418px;top:1058.5px" width="28" height="28" viewBox="0 0 24 24" fill="none" stroke="#fff" stroke-width="2.4" stroke-linecap="round" stroke-linejoin="round"><path d="M20 6 9 17l-5-5"/></svg>
<div class="a" style="left:1722px;top:1056px;width:32px;height:32px;background:#4c3a90;border-radius:8px;box-shadow:0 2px 4px rgba(0,0,0,.08)"></div><svg class="a" style="left:1724px;top:1058.5px" width="28" height="28" viewBox="0 0 24 24" fill="none" stroke="#fff" stroke-width="2.4" stroke-linecap="round" stroke-linejoin="round"><path d="M20 6 9 17l-5-5"/></svg>
<div class="a" style="left:2020px;top:1056px;width:32px;height:32px;background:#4c3a90;border-radius:8px;box-shadow:0 2px 4px rgba(0,0,0,.08)"></div><svg class="a" style="left:2022px;top:1058.5px" width="28" height="28" viewBox="0 0 24 24" fill="none" stroke="#fff" stroke-width="2.4" stroke-linecap="round" stroke-linejoin="round"><path d="M20 6 9 17l-5-5"/></svg>
<div class="a" style="left:2308px;top:1056px;width:32px;height:32px;background:#4c3a90;border-radius:8px;box-shadow:0 2px 4px rgba(0,0,0,.08)"></div><svg class="a" style="left:2310px;top:1058.5px" width="28" height="28" viewBox="0 0 24 24" fill="none" stroke="#fff" stroke-width="2.4" stroke-linecap="round" stroke-linejoin="round"><path d="M20 6 9 17l-5-5"/></svg>
<div class="a" style="left:2606px;top:1056px;width:32px;height:32px;background:#4c3a90;border-radius:8px;box-shadow:0 2px 4px rgba(0,0,0,.08)"></div><svg class="a" style="left:2608px;top:1058.5px" width="28" height="28" viewBox="0 0 24 24" fill="none" stroke="#fff" stroke-width="2.4" stroke-linecap="round" stroke-linejoin="round"><path d="M20 6 9 17l-5-5"/></svg>
<div class="t" style="left:611.00px;top:1132px;font-size:29.3px;line-height:33px;color:#0a0a0a;-webkit-text-stroke:0.5px #0a0a0a;letter-spacing:0.725px;">Inštalácie</div>
<div class="a" style="left:1108px;top:1134px;width:32px;height:32px;background:#4c3a90;border-radius:8px;box-shadow:0 2px 4px rgba(0,0,0,.08)"></div><svg class="a" style="left:1110px;top:1136.5px" width="28" height="28" viewBox="0 0 24 24" fill="none" stroke="#fff" stroke-width="2.4" stroke-linecap="round" stroke-linejoin="round"><path d="M20 6 9 17l-5-5"/></svg>
<div class="a" style="left:1416px;top:1134px;width:32px;height:32px;background:#4c3a90;border-radius:8px;box-shadow:0 2px 4px rgba(0,0,0,.08)"></div><svg class="a" style="left:1418px;top:1136.5px" width="28" height="28" viewBox="0 0 24 24" fill="none" stroke="#fff" stroke-width="2.4" stroke-linecap="round" stroke-linejoin="round"><path d="M20 6 9 17l-5-5"/></svg>
<div class="a" style="left:1722px;top:1134px;width:32px;height:32px;background:#4c3a90;border-radius:8px;box-shadow:0 2px 4px rgba(0,0,0,.08)"></div><svg class="a" style="left:1724px;top:1136.5px" width="28" height="28" viewBox="0 0 24 24" fill="none" stroke="#fff" stroke-width="2.4" stroke-linecap="round" stroke-linejoin="round"><path d="M20 6 9 17l-5-5"/></svg>
<div class="a" style="left:2020px;top:1134px;width:32px;height:32px;background:#4c3a90;border-radius:8px;box-shadow:0 2px 4px rgba(0,0,0,.08)"></div><svg class="a" style="left:2022px;top:1136.5px" width="28" height="28" viewBox="0 0 24 24" fill="none" stroke="#fff" stroke-width="2.4" stroke-linecap="round" stroke-linejoin="round"><path d="M20 6 9 17l-5-5"/></svg>
<div class="a" style="left:2308px;top:1134px;width:32px;height:32px;background:#4c3a90;border-radius:8px;box-shadow:0 2px 4px rgba(0,0,0,.08)"></div><svg class="a" style="left:2310px;top:1136.5px" width="28" height="28" viewBox="0 0 24 24" fill="none" stroke="#fff" stroke-width="2.4" stroke-linecap="round" stroke-linejoin="round"><path d="M20 6 9 17l-5-5"/></svg>
<div class="a" style="left:2606px;top:1134px;width:32px;height:32px;background:#4c3a90;border-radius:8px;box-shadow:0 2px 4px rgba(0,0,0,.08)"></div><svg class="a" style="left:2608px;top:1136.5px" width="28" height="28" viewBox="0 0 24 24" fill="none" stroke="#fff" stroke-width="2.4" stroke-linecap="round" stroke-linejoin="round"><path d="M20 6 9 17l-5-5"/></svg>
<div class="t" style="left:611.00px;top:1210px;font-size:29.3px;line-height:33px;color:#0a0a0a;-webkit-text-stroke:0.5px #0a0a0a;letter-spacing:0.851px;">Fotodokumentácia</div>
<div class="a" style="left:1108px;top:1212px;width:32px;height:32px;background:#4c3a90;border-radius:8px;box-shadow:0 2px 4px rgba(0,0,0,.08)"></div><svg class="a" style="left:1110px;top:1214.5px" width="28" height="28" viewBox="0 0 24 24" fill="none" stroke="#fff" stroke-width="2.4" stroke-linecap="round" stroke-linejoin="round"><path d="M20 6 9 17l-5-5"/></svg>
<div class="a" style="left:1416px;top:1212px;width:32px;height:32px;background:#4c3a90;border-radius:8px;box-shadow:0 2px 4px rgba(0,0,0,.08)"></div><svg class="a" style="left:1418px;top:1214.5px" width="28" height="28" viewBox="0 0 24 24" fill="none" stroke="#fff" stroke-width="2.4" stroke-linecap="round" stroke-linejoin="round"><path d="M20 6 9 17l-5-5"/></svg>
<div class="a" style="left:1722px;top:1212px;width:32px;height:32px;background:#4c3a90;border-radius:8px;box-shadow:0 2px 4px rgba(0,0,0,.08)"></div><svg class="a" style="left:1724px;top:1214.5px" width="28" height="28" viewBox="0 0 24 24" fill="none" stroke="#fff" stroke-width="2.4" stroke-linecap="round" stroke-linejoin="round"><path d="M20 6 9 17l-5-5"/></svg>
<div class="a" style="left:2020px;top:1212px;width:32px;height:32px;background:#4c3a90;border-radius:8px;box-shadow:0 2px 4px rgba(0,0,0,.08)"></div><svg class="a" style="left:2022px;top:1214.5px" width="28" height="28" viewBox="0 0 24 24" fill="none" stroke="#fff" stroke-width="2.4" stroke-linecap="round" stroke-linejoin="round"><path d="M20 6 9 17l-5-5"/></svg>
<div class="a" style="left:2308px;top:1212px;width:32px;height:32px;background:#4c3a90;border-radius:8px;box-shadow:0 2px 4px rgba(0,0,0,.08)"></div><svg class="a" style="left:2310px;top:1214.5px" width="28" height="28" viewBox="0 0 24 24" fill="none" stroke="#fff" stroke-width="2.4" stroke-linecap="round" stroke-linejoin="round"><path d="M20 6 9 17l-5-5"/></svg>
<div class="a" style="left:2606px;top:1212px;width:32px;height:32px;background:#4c3a90;border-radius:8px;box-shadow:0 2px 4px rgba(0,0,0,.08)"></div><svg class="a" style="left:2608px;top:1214.5px" width="28" height="28" viewBox="0 0 24 24" fill="none" stroke="#fff" stroke-width="2.4" stroke-linecap="round" stroke-linejoin="round"><path d="M20 6 9 17l-5-5"/></svg>
<div class="t" style="left:611.00px;top:1288px;font-size:29.3px;line-height:33px;color:#0a0a0a;-webkit-text-stroke:0.5px #0a0a0a;letter-spacing:1.299px;">Nedostatky</div>
<div class="a" style="left:1108px;top:1290px;width:32px;height:32px;background:#4c3a90;border-radius:8px;box-shadow:0 2px 4px rgba(0,0,0,.08)"></div><svg class="a" style="left:1110px;top:1292.5px" width="28" height="28" viewBox="0 0 24 24" fill="none" stroke="#fff" stroke-width="2.4" stroke-linecap="round" stroke-linejoin="round"><path d="M20 6 9 17l-5-5"/></svg>
<div class="a" style="left:1416px;top:1290px;width:32px;height:32px;background:#4c3a90;border-radius:8px;box-shadow:0 2px 4px rgba(0,0,0,.08)"></div><svg class="a" style="left:1418px;top:1292.5px" width="28" height="28" viewBox="0 0 24 24" fill="none" stroke="#fff" stroke-width="2.4" stroke-linecap="round" stroke-linejoin="round"><path d="M20 6 9 17l-5-5"/></svg>
<div class="a" style="left:1722px;top:1290px;width:32px;height:32px;background:#4c3a90;border-radius:8px;box-shadow:0 2px 4px rgba(0,0,0,.08)"></div><svg class="a" style="left:1724px;top:1292.5px" width="28" height="28" viewBox="0 0 24 24" fill="none" stroke="#fff" stroke-width="2.4" stroke-linecap="round" stroke-linejoin="round"><path d="M20 6 9 17l-5-5"/></svg>
<div class="a" style="left:2020px;top:1290px;width:32px;height:32px;background:#4c3a90;border-radius:8px;box-shadow:0 2px 4px rgba(0,0,0,.08)"></div><svg class="a" style="left:2022px;top:1292.5px" width="28" height="28" viewBox="0 0 24 24" fill="none" stroke="#fff" stroke-width="2.4" stroke-linecap="round" stroke-linejoin="round"><path d="M20 6 9 17l-5-5"/></svg>
<div class="a" style="left:2308px;top:1290px;width:32px;height:32px;background:#4c3a90;border-radius:8px;box-shadow:0 2px 4px rgba(0,0,0,.08)"></div><svg class="a" style="left:2310px;top:1292.5px" width="28" height="28" viewBox="0 0 24 24" fill="none" stroke="#fff" stroke-width="2.4" stroke-linecap="round" stroke-linejoin="round"><path d="M20 6 9 17l-5-5"/></svg>
<div class="a" style="left:2606px;top:1290px;width:32px;height:32px;background:#4c3a90;border-radius:8px;box-shadow:0 2px 4px rgba(0,0,0,.08)"></div><svg class="a" style="left:2608px;top:1292.5px" width="28" height="28" viewBox="0 0 24 24" fill="none" stroke="#fff" stroke-width="2.4" stroke-linecap="round" stroke-linejoin="round"><path d="M20 6 9 17l-5-5"/></svg>
<div class="t" style="left:611.00px;top:1366px;font-size:29.3px;line-height:33px;color:#0a0a0a;-webkit-text-stroke:0.5px #0a0a0a;letter-spacing:0.901px;">Doplňujúce informácie</div>
<div class="a" style="left:1108px;top:1368px;width:32px;height:32px;background:#4c3a90;border-radius:8px;box-shadow:0 2px 4px rgba(0,0,0,.08)"></div><svg class="a" style="left:1110px;top:1370.5px" width="28" height="28" viewBox="0 0 24 24" fill="none" stroke="#fff" stroke-width="2.4" stroke-linecap="round" stroke-linejoin="round"><path d="M20 6 9 17l-5-5"/></svg>
<div class="a" style="left:1416px;top:1368px;width:32px;height:32px;background:#4c3a90;border-radius:8px;box-shadow:0 2px 4px rgba(0,0,0,.08)"></div><svg class="a" style="left:1418px;top:1370.5px" width="28" height="28" viewBox="0 0 24 24" fill="none" stroke="#fff" stroke-width="2.4" stroke-linecap="round" stroke-linejoin="round"><path d="M20 6 9 17l-5-5"/></svg>
<div class="a" style="left:1722px;top:1368px;width:32px;height:32px;background:#4c3a90;border-radius:8px;box-shadow:0 2px 4px rgba(0,0,0,.08)"></div><svg class="a" style="left:1724px;top:1370.5px" width="28" height="28" viewBox="0 0 24 24" fill="none" stroke="#fff" stroke-width="2.4" stroke-linecap="round" stroke-linejoin="round"><path d="M20 6 9 17l-5-5"/></svg>
<div class="a" style="left:2020px;top:1368px;width:32px;height:32px;background:#4c3a90;border-radius:8px;box-shadow:0 2px 4px rgba(0,0,0,.08)"></div><svg class="a" style="left:2022px;top:1370.5px" width="28" height="28" viewBox="0 0 24 24" fill="none" stroke="#fff" stroke-width="2.4" stroke-linecap="round" stroke-linejoin="round"><path d="M20 6 9 17l-5-5"/></svg>
<div class="a" style="left:2308px;top:1368px;width:32px;height:32px;background:#4c3a90;border-radius:8px;box-shadow:0 2px 4px rgba(0,0,0,.08)"></div><svg class="a" style="left:2310px;top:1370.5px" width="28" height="28" viewBox="0 0 24 24" fill="none" stroke="#fff" stroke-width="2.4" stroke-linecap="round" stroke-linejoin="round"><path d="M20 6 9 17l-5-5"/></svg>
<div class="a" style="left:2606px;top:1368px;width:32px;height:32px;background:#4c3a90;border-radius:8px;box-shadow:0 2px 4px rgba(0,0,0,.08)"></div><svg class="a" style="left:2608px;top:1370.5px" width="28" height="28" viewBox="0 0 24 24" fill="none" stroke="#fff" stroke-width="2.4" stroke-linecap="round" stroke-linejoin="round"><path d="M20 6 9 17l-5-5"/></svg>
<div class="t" style="left:612.00px;top:1444px;font-size:29.3px;line-height:33px;color:#0a0a0a;-webkit-text-stroke:0.5px #0a0a0a;letter-spacing:0.574px;">Odporúčania</div>
<div class="a" style="left:1108px;top:1446px;width:32px;height:32px;background:#4c3a90;border-radius:8px;box-shadow:0 2px 4px rgba(0,0,0,.08)"></div><svg class="a" style="left:1110px;top:1448.5px" width="28" height="28" viewBox="0 0 24 24" fill="none" stroke="#fff" stroke-width="2.4" stroke-linecap="round" stroke-linejoin="round"><path d="M20 6 9 17l-5-5"/></svg>
<div class="a" style="left:1416px;top:1446px;width:32px;height:32px;background:#4c3a90;border-radius:8px;box-shadow:0 2px 4px rgba(0,0,0,.08)"></div><svg class="a" style="left:1418px;top:1448.5px" width="28" height="28" viewBox="0 0 24 24" fill="none" stroke="#fff" stroke-width="2.4" stroke-linecap="round" stroke-linejoin="round"><path d="M20 6 9 17l-5-5"/></svg>
<div class="a" style="left:1722px;top:1446px;width:32px;height:32px;background:#4c3a90;border-radius:8px;box-shadow:0 2px 4px rgba(0,0,0,.08)"></div><svg class="a" style="left:1724px;top:1448.5px" width="28" height="28" viewBox="0 0 24 24" fill="none" stroke="#fff" stroke-width="2.4" stroke-linecap="round" stroke-linejoin="round"><path d="M20 6 9 17l-5-5"/></svg>
<div class="a" style="left:2020px;top:1446px;width:32px;height:32px;background:#4c3a90;border-radius:8px;box-shadow:0 2px 4px rgba(0,0,0,.08)"></div><svg class="a" style="left:2022px;top:1448.5px" width="28" height="28" viewBox="0 0 24 24" fill="none" stroke="#fff" stroke-width="2.4" stroke-linecap="round" stroke-linejoin="round"><path d="M20 6 9 17l-5-5"/></svg>
<div class="a" style="left:2308px;top:1446px;width:32px;height:32px;background:#4c3a90;border-radius:8px;box-shadow:0 2px 4px rgba(0,0,0,.08)"></div><svg class="a" style="left:2310px;top:1448.5px" width="28" height="28" viewBox="0 0 24 24" fill="none" stroke="#fff" stroke-width="2.4" stroke-linecap="round" stroke-linejoin="round"><path d="M20 6 9 17l-5-5"/></svg>
<div class="a" style="left:2606px;top:1446px;width:32px;height:32px;background:#4c3a90;border-radius:8px;box-shadow:0 2px 4px rgba(0,0,0,.08)"></div><svg class="a" style="left:2608px;top:1448.5px" width="28" height="28" viewBox="0 0 24 24" fill="none" stroke="#fff" stroke-width="2.4" stroke-linecap="round" stroke-linejoin="round"><path d="M20 6 9 17l-5-5"/></svg>
<div class="t" style="left:611.00px;top:1522px;font-size:29.3px;line-height:33px;color:#0a0a0a;-webkit-text-stroke:0.5px #0a0a0a;letter-spacing:0.254px;">Poznámky</div>
<div class="a" style="left:1108px;top:1524px;width:32px;height:32px;background:#4c3a90;border-radius:8px;box-shadow:0 2px 4px rgba(0,0,0,.08)"></div><svg class="a" style="left:1110px;top:1526.5px" width="28" height="28" viewBox="0 0 24 24" fill="none" stroke="#fff" stroke-width="2.4" stroke-linecap="round" stroke-linejoin="round"><path d="M20 6 9 17l-5-5"/></svg>
<div class="a" style="left:1416px;top:1524px;width:32px;height:32px;background:#4c3a90;border-radius:8px;box-shadow:0 2px 4px rgba(0,0,0,.08)"></div><svg class="a" style="left:1418px;top:1526.5px" width="28" height="28" viewBox="0 0 24 24" fill="none" stroke="#fff" stroke-width="2.4" stroke-linecap="round" stroke-linejoin="round"><path d="M20 6 9 17l-5-5"/></svg>
<div class="a" style="left:1722px;top:1524px;width:32px;height:32px;background:#4c3a90;border-radius:8px;box-shadow:0 2px 4px rgba(0,0,0,.08)"></div><svg class="a" style="left:1724px;top:1526.5px" width="28" height="28" viewBox="0 0 24 24" fill="none" stroke="#fff" stroke-width="2.4" stroke-linecap="round" stroke-linejoin="round"><path d="M20 6 9 17l-5-5"/></svg>
<div class="a" style="left:2020px;top:1524px;width:32px;height:32px;background:#4c3a90;border-radius:8px;box-shadow:0 2px 4px rgba(0,0,0,.08)"></div><svg class="a" style="left:2022px;top:1526.5px" width="28" height="28" viewBox="0 0 24 24" fill="none" stroke="#fff" stroke-width="2.4" stroke-linecap="round" stroke-linejoin="round"><path d="M20 6 9 17l-5-5"/></svg>
<div class="a" style="left:2308px;top:1524px;width:32px;height:32px;background:#4c3a90;border-radius:8px;box-shadow:0 2px 4px rgba(0,0,0,.08)"></div><svg class="a" style="left:2310px;top:1526.5px" width="28" height="28" viewBox="0 0 24 24" fill="none" stroke="#fff" stroke-width="2.4" stroke-linecap="round" stroke-linejoin="round"><path d="M20 6 9 17l-5-5"/></svg>
<div class="a" style="left:2606px;top:1524px;width:32px;height:32px;background:#4c3a90;border-radius:8px;box-shadow:0 2px 4px rgba(0,0,0,.08)"></div><svg class="a" style="left:2608px;top:1526.5px" width="28" height="28" viewBox="0 0 24 24" fill="none" stroke="#fff" stroke-width="2.4" stroke-linecap="round" stroke-linejoin="round"><path d="M20 6 9 17l-5-5"/></svg>
<div class="t" style="left:611.00px;top:1600px;font-size:29.3px;line-height:33px;color:#0a0a0a;-webkit-text-stroke:0.5px #0a0a0a;letter-spacing:0.587px;">Podpisy</div>
<div class="t" style="left:726.90px;top:1606px;font-size:23.4px;line-height:26px;color:#737373;-webkit-text-stroke:0.15px #737373;letter-spacing:0.759px;">(povinná)</div>
<div class="a" style="left:1108px;top:1602px;width:32px;height:32px;background:#a59dc8;border-radius:8px;box-shadow:0 2px 4px rgba(0,0,0,.08)"></div><svg class="a" style="left:1110px;top:1604.5px" width="28" height="28" viewBox="0 0 24 24" fill="none" stroke="#fff" stroke-width="2.4" stroke-linecap="round" stroke-linejoin="round"><path d="M20 6 9 17l-5-5"/></svg>
<div class="a" style="left:1416px;top:1602px;width:32px;height:32px;background:#4c3a90;border-radius:8px;box-shadow:0 2px 4px rgba(0,0,0,.08)"></div><svg class="a" style="left:1418px;top:1604.5px" width="28" height="28" viewBox="0 0 24 24" fill="none" stroke="#fff" stroke-width="2.4" stroke-linecap="round" stroke-linejoin="round"><path d="M20 6 9 17l-5-5"/></svg>
<div class="a" style="left:1722px;top:1602px;width:32px;height:32px;background:#4c3a90;border-radius:8px;box-shadow:0 2px 4px rgba(0,0,0,.08)"></div><svg class="a" style="left:1724px;top:1604.5px" width="28" height="28" viewBox="0 0 24 24" fill="none" stroke="#fff" stroke-width="2.4" stroke-linecap="round" stroke-linejoin="round"><path d="M20 6 9 17l-5-5"/></svg>
<div class="a" style="left:2020px;top:1602px;width:32px;height:32px;background:#4c3a90;border-radius:8px;box-shadow:0 2px 4px rgba(0,0,0,.08)"></div><svg class="a" style="left:2022px;top:1604.5px" width="28" height="28" viewBox="0 0 24 24" fill="none" stroke="#fff" stroke-width="2.4" stroke-linecap="round" stroke-linejoin="round"><path d="M20 6 9 17l-5-5"/></svg>
<div class="a" style="left:2308px;top:1602px;width:32px;height:32px;background:#4c3a90;border-radius:8px;box-shadow:0 2px 4px rgba(0,0,0,.08)"></div><svg class="a" style="left:2310px;top:1604.5px" width="28" height="28" viewBox="0 0 24 24" fill="none" stroke="#fff" stroke-width="2.4" stroke-linecap="round" stroke-linejoin="round"><path d="M20 6 9 17l-5-5"/></svg>
<div class="a" style="left:2606px;top:1602px;width:32px;height:32px;border:2px solid #4c3a90;border-radius:8px;box-sizing:border-box;background:#fff;box-shadow:0 2px 4px rgba(0,0,0,.06)"></div>
<div class="t" style="left:612.00px;top:1679px;font-size:29.3px;line-height:33px;color:#0a0a0a;-webkit-text-stroke:0.5px #0a0a0a;letter-spacing:-0.349px;">GPS Polohy</div>
<div class="t" style="left:777.00px;top:1685px;font-size:23.4px;line-height:26px;color:#737373;-webkit-text-stroke:0.15px #737373;letter-spacing:0.835px;">(len</div>
<div class="t" style="left:612.70px;top:1729px;font-size:23.4px;line-height:26px;color:#737373;-webkit-text-stroke:0.15px #737373;letter-spacing:0.367px;">zobrazenie)</div>
<div class="a" style="left:1099.2px;top:1718px;width:33px;height:2px;background:#6b6b6b"></div>
<div class="a" style="left:1407.3px;top:1718px;width:33px;height:2px;background:#6b6b6b"></div>
<div class="a" style="left:1713.5px;top:1718px;width:33px;height:2px;background:#6b6b6b"></div>
<div class="a" style="left:2011.7px;top:1718px;width:33px;height:2px;background:#6b6b6b"></div>
<div class="a" style="left:2308px;top:1702px;width:32px;height:32px;background:#4c3a90;border-radius:8px;box-shadow:0 2px 4px rgba(0,0,0,.08)"></div><svg class="a" style="left:2310px;top:1704.5px" width="28" height="28" viewBox="0 0 24 24" fill="none" stroke="#fff" stroke-width="2.4" stroke-linecap="round" stroke-linejoin="round"><path d="M20 6 9 17l-5-5"/></svg>
<div class="a" style="left:2606px;top:1702px;width:32px;height:32px;border:2px solid #4c3a90;border-radius:8px;box-sizing:border-box;background:#fff;box-shadow:0 2px 4px rgba(0,0,0,.06)"></div>
</div></body></html>
